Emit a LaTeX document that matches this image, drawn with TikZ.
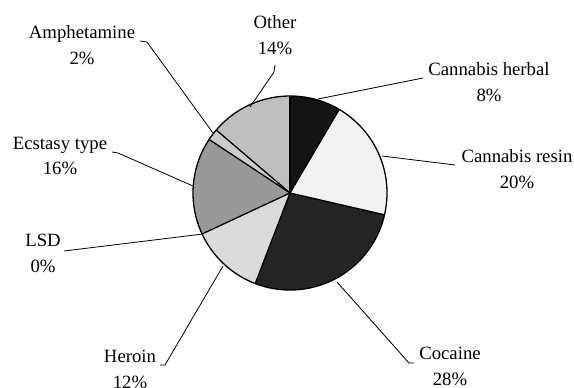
\documentclass[tikz,border=0pt]{standalone}
\usepackage{fontspec}
\setmainfont{Liberation Serif}
\begin{document}
\begin{tikzpicture}[x=1bp,y=1bp,
  slice/.style={draw=black,line width=1.3bp,line join=round},
  leader/.style={draw=black,line width=0.8bp},
  lbl/.style={align=center,font=\fontsize{18.8}{26}\selectfont,inner sep=0pt}]
\useasboundingbox (0,0) rectangle (574,387);
\def\R{97bp}
\coordinate (c) at (290,194);
% slices (clockwise from top)
\fill[black!92] (c) -- ++(90:\R) arc[start angle=90,end angle=59.5,radius=\R] -- cycle;
\fill[black!5] (c) -- ++(59.5:\R) arc[start angle=59.5,end angle=-13,radius=\R] -- cycle;
\fill[black!86] (c) -- ++(-13:\R) arc[start angle=-13,end angle=-111,radius=\R] -- cycle;
\fill[black!14] (c) -- ++(-111:\R) arc[start angle=-111,end angle=-155,radius=\R] -- cycle;
\fill[black!40] (c) -- ++(-155:\R) arc[start angle=-155,end angle=-213.5,radius=\R] -- cycle;
\fill[black!20] (c) -- ++(-213.5:\R) arc[start angle=-213.5,end angle=-220.5,radius=\R] -- cycle;
\fill[black!25] (c) -- ++(-220.5:\R) arc[start angle=-220.5,end angle=-270,radius=\R] -- cycle;
\foreach \a in {90,59.5,-13,-111,-155,-213.5,-220.5}
  \draw[slice] (c) -- ++(\a:\R);
\draw[slice] (c) circle[radius=\R];
% labels
\node[lbl] (herb) at (489,305) {Cannabis herbal\\8\%};
\node[lbl] (resin) at (517,218) {Cannabis resin\\20\%};
\node[lbl] (coc) at (450,21) {Cocaine\\28\%};
\node[lbl] (her) at (130,18) {Heroin\\12\%};
\node[lbl] (lsd) at (43,134) {LSD\\0\%};
\node[lbl] (ecs) at (60,231) {Ecstasy type\\16\%};
\node[lbl] (amp) at (82,342) {Amphetamine\\2\%};
\node[lbl] (oth) at (275,352) {Other\\14\%};
% leader anchor points
\coordinate (herbA) at (423,309); \coordinate (herbB) at (318,288);
\coordinate (resA) at (455,222); \coordinate (resB) at (382,231);
\coordinate (cocA) at (414,24); \coordinate (cocM) at (409,24); \coordinate (cocB) at (337,105);
\coordinate (herA) at (160,22); \coordinate (herM) at (165,22); \coordinate (herB) at (223,121);
\coordinate (lsdA) at (64,136); \coordinate (lsdB) at (203,153);
\coordinate (ecsA) at (112,235); \coordinate (ecsM) at (118,234); \coordinate (ecsB) at (193,201);
\coordinate (ampA) at (140,346); \coordinate (ampM) at (147,345); \coordinate (ampB) at (213,254);
\coordinate (othA) at (275,322); \coordinate (othM) at (274,315); \coordinate (othB) at (250,280);
\draw[leader] (herbA) -- (herbB);
\draw[leader] (resA) -- (resB);
\draw[leader] (cocA) -- (cocM) -- (cocB);
\draw[leader] (herA) -- (herM) -- (herB);
\draw[leader] (lsdA) -- (lsdB);
\draw[leader] (ecsA) -- (ecsM) -- (ecsB);
\draw[leader] (ampA) -- (ampM) -- (ampB);
\draw[leader] (othA) -- (othM) -- (othB);
\end{tikzpicture}
\end{document}
